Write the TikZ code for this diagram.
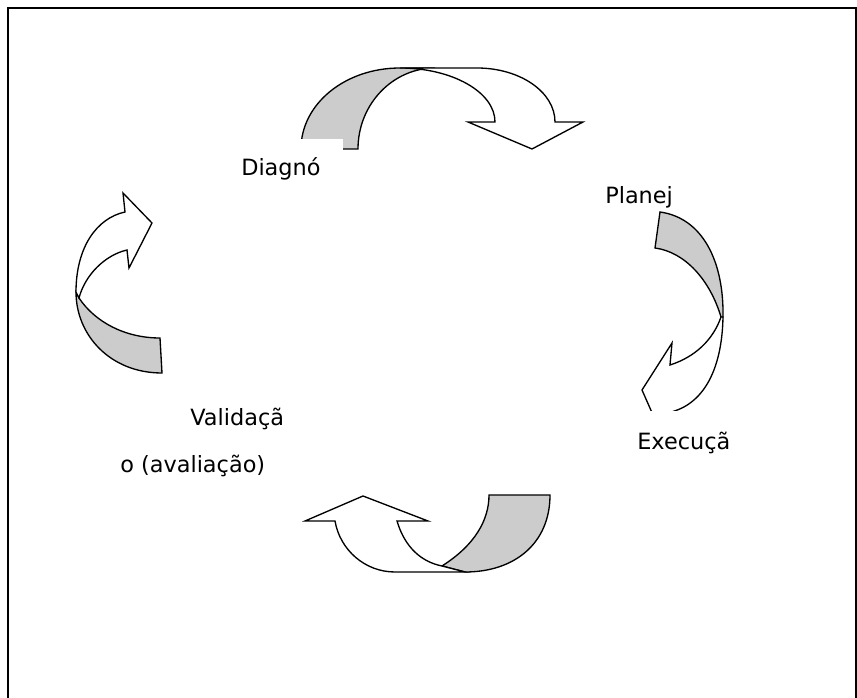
\documentclass[tikz,border=0pt]{standalone}
\usepackage{fontspec}
\setmainfont{DejaVu Sans}
\definecolor{bandgrey}{RGB}{204,204,204}
\begin{document}
\begin{tikzpicture}[x=0.75pt,y=-0.75pt,
  band/.style={draw=black,line width=1pt,line join=miter,fill=bandgrey},
  front/.style={draw=black,line width=1pt,line join=miter,fill=white},
  lbl/.style={anchor=base west,inner sep=0pt,font=\fontsize{16.8pt}{20pt}\selectfont},
  cover/.style={fill=white,draw=none}]
\useasboundingbox (0,0) rectangle (857,698);
\fill[white] (0,0) rectangle (857,698);
% frame
\draw[line width=1.5pt] (8,699) -- (8,8) -- (855.5,8) -- (855.5,699);

% top arrow (Diagnostico -> Planejamento)
\path[band] (301,149) .. controls (301,104) and (345,68) .. (400,68) -- (435,68)
  .. controls (393,68) and (358,104) .. (358,149) -- cycle;
\path[front] (400,68) -- (477,68) .. controls (520,68) and (555,92) .. (555,122)
  -- (583,122) -- (532,149) -- (468,122) -- (495,122)
  .. controls (495,92) and (452,68) .. (400,68) -- cycle;
\path[cover] (225,139) rectangle (343,192);
\node[lbl] (diag) at (241,176) {Diagnó};

% right arrow (Planejamento -> Execucao)
\path[band] (655,248) -- (660,212) .. controls (703,218) and (724,262) .. (723,317)
  -- (721,317) .. controls (710,280) and (685,252) .. (655,248) -- cycle;
\path[front] (723,317) .. controls (722,370) and (703,410) .. (660,414)
  -- (657,424) -- (642,390) -- (672,343) -- (670,365)
  .. controls (695,357) and (713,340) .. (721,317) -- cycle;
\node[lbl] (plan) at (605,204) {Planej};
\path[cover] (600,411) rectangle (740,470);
\node[lbl] (exec) at (637,450) {Execuçã};

% bottom arrow (Execucao -> Validacao)
\path[band] (489,495) -- (550,495) .. controls (550,543) and (515,572) .. (465,572)
  -- (442,566) .. controls (475,545) and (489,520) .. (489,495) -- cycle;
\path[front] (442,566) -- (465,572) -- (395,572)
  .. controls (365,572) and (340,550) .. (335,521) -- (305,521) -- (363,496)
  -- (428,521) -- (397,521) .. controls (405,548) and (422,562) .. (442,566) -- cycle;

% left arrow (Validacao -> Diagnostico)
\path[band] (76,292) .. controls (76,335) and (110,373) .. (162,373)
  -- (160,338) .. controls (125,338) and (95,322) .. (79,298) -- cycle;
\path[front] (76,292) .. controls (76,247) and (97,218) .. (125,212)
  -- (123,193) -- (152,223) -- (129,268) -- (127,250)
  .. controls (105,255) and (85,275) .. (79,298) -- cycle;

\node[lbl] (valid) at (190,426) {Validaçã};
\node[lbl] (aval) at (120,473) {o (avaliação)};
\end{tikzpicture}
\end{document}
